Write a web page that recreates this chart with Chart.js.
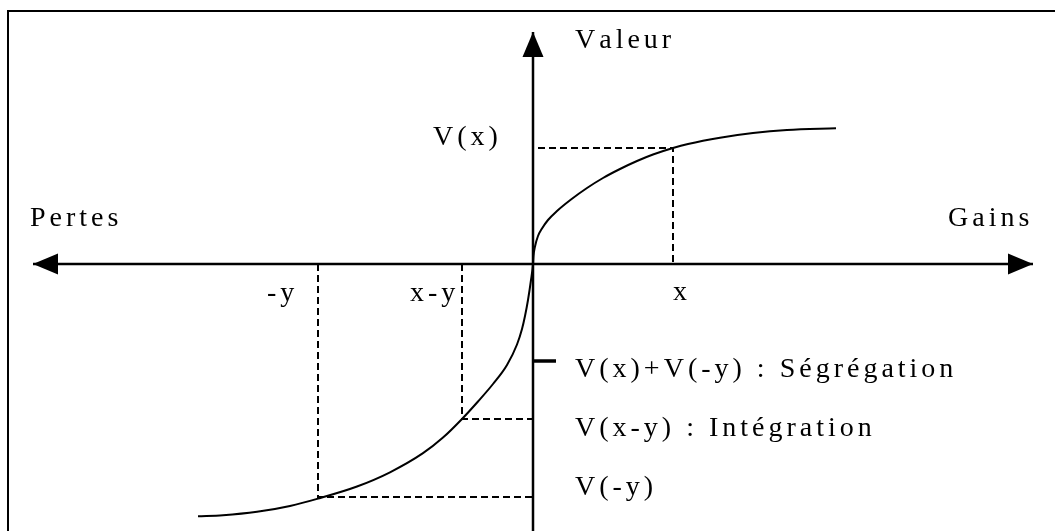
<!DOCTYPE html>
<html lang="fr">
<head>
<meta charset="utf-8">
<title>Fonction de valeur : ségrégation et intégration</title>
<script src="https://cdn.jsdelivr.net/npm/chart.js@4/dist/chart.umd.min.js"></script>
<style>
    html, body { margin: 0; padding: 0; background: #fff; }
    body { position: relative; width: 1055px; height: 531px; overflow: hidden; }
    canvas { position: absolute; left: 0; top: 0; }
    #cadre {
        position: absolute; left: 7px; top: 10px; width: 1100px; height: 600px;
        border-top: 2px solid #000; border-left: 2px solid #000; pointer-events: none;
    }
</style>
</head>
<body>
<canvas id="valeurChart" width="1055" height="531"></canvas>
<div id="cadre"></div>
<script>
// Courbe de valeur, côté pertes (abscisse négative)
const pertesX = [-335, -310, -276, -243, -215, -176, -143, -110, -90, -71, -55, -40, -26, -16, -11, -8, -5, -2];
const pertesY = [-252.2, -251.2, -247.8, -241.9, -234.6, -222.5, -208.3, -189.2, -173.6, -155, -137.5, -120, -101, -80.5, -65, -52, -36, -16];

// Courbe de valeur, côté gains
const gainsX = [0, 0.5, 2, 5, 9, 15, 24, 38, 54, 70, 87, 104, 120, 140, 155, 187, 220, 254, 303];
const gainsY = [0, 8, 17.5, 28, 35.5, 44, 53, 64.5, 76, 86, 95, 103, 109.5, 116, 120, 126.3, 131, 134, 135.7];

// Points remarquables
const gainX = 140, valeurGainX = 116;
const gainXmoinsY = -71, valeurXmoinsY = -155;
const perteY = -215, valeurPerteY = -233;
const valeurSegregation = -97;

// Étendue des axes
const axeHorizontal = [-500, 500];
const axeVertical = [-267, 232];

// Textes
const etiquettes = ['Valeur', 'V(x)', 'Pertes', 'Gains', '-y', 'x-y', 'x',
                    'V(x)+V(-y) : Ségrégation', 'V(x-y) : Intégration', 'V(-y)'];
const etiquettesX = [42, -100, -503, 415, -266, -123, 140, 42, 42, 42];
const etiquettesY = [216, 119, 38, 38, -37, -37, -36, -113, -172, -231];

function points(xs, ys) {
    return xs.map((x, i) => ({ x: x, y: ys[i] }));
}

function trait(data, largeur, pointilles) {
    return {
        data: data,
        showLine: true,
        borderColor: '#000',
        borderWidth: largeur,
        borderDash: pointilles || [],
        pointRadius: 0,
        fill: false
    };
}

// Flèches et textes dessinés à partir des échelles
const flechesEtTextes = {
    id: 'flechesEtTextes',
    afterDatasetsDraw(chart) {
        const ctx = chart.ctx;
        const sx = chart.scales.x, sy = chart.scales.y;
        const y0 = sy.getPixelForValue(0), x0 = sx.getPixelForValue(0);

        const fleche = (tx, ty, dx, dy) => {
            const l = 25, w = 10.5;
            ctx.beginPath();
            ctx.moveTo(tx, ty);
            ctx.lineTo(tx - dx * l - dy * w, ty - dy * l + dx * w);
            ctx.lineTo(tx - dx * l + dy * w, ty - dy * l - dx * w);
            ctx.closePath();
            ctx.fill();
        };

        ctx.save();
        ctx.fillStyle = '#000';
        fleche(sx.getPixelForValue(axeHorizontal[0]), y0, -1, 0);
        fleche(sx.getPixelForValue(axeHorizontal[1]), y0, 1, 0);
        fleche(x0, sy.getPixelForValue(axeVertical[1]), 0, -1);

        // texte espacé lettre par lettre, comme dans l'original
        ctx.font = '28px "Liberation Serif", "Times New Roman", serif';
        ctx.textBaseline = 'alphabetic';
        ctx.textAlign = 'left';
        etiquettes.forEach((texte, i) => {
            let pos = sx.getPixelForValue(etiquettesX[i]);
            const py = sy.getPixelForValue(etiquettesY[i]);
            for (const c of texte) {
                ctx.fillText(c, pos, py);
                pos += ctx.measureText(c).width + 4;
            }
        });
        ctx.restore();
    }
};

document.addEventListener('DOMContentLoaded', () => {
    const ctx = document.getElementById('valeurChart');

    const courbe = trait(points(pertesX.concat(gainsX), pertesY.concat(gainsY)), 2);
    courbe.cubicInterpolationMode = 'monotone';

    new Chart(ctx, {
        type: 'scatter',
        data: {
            datasets: [
                trait([{ x: axeHorizontal[0], y: 0 }, { x: axeHorizontal[1], y: 0 }], 2.5),
                trait([{ x: 0, y: axeVertical[0] }, { x: 0, y: axeVertical[1] }], 2.5),
                trait([{ x: 5, y: valeurGainX }, { x: gainX, y: valeurGainX }, { x: gainX, y: 0 }], 2, [7, 4]),
                trait([{ x: gainXmoinsY, y: 0 }, { x: gainXmoinsY, y: valeurXmoinsY }, { x: 0, y: valeurXmoinsY }], 2, [7, 4]),
                trait([{ x: perteY, y: 0 }, { x: perteY, y: valeurPerteY }, { x: 0, y: valeurPerteY }], 2, [7, 4]),
                trait([{ x: 0, y: valeurSegregation }, { x: 23, y: valeurSegregation }], 3.5),
                courbe
            ]
        },
        options: {
            responsive: false,
            animation: false,
            layout: { padding: 0 },
            plugins: {
                legend: { display: false },
                tooltip: { enabled: false }
            },
            scales: {
                x: { type: 'linear', display: false, min: -533, max: 522 },
                y: { type: 'linear', display: false, min: -267, max: 264 }
            }
        },
        plugins: [flechesEtTextes]
    });
});
</script>
</body>
</html>
